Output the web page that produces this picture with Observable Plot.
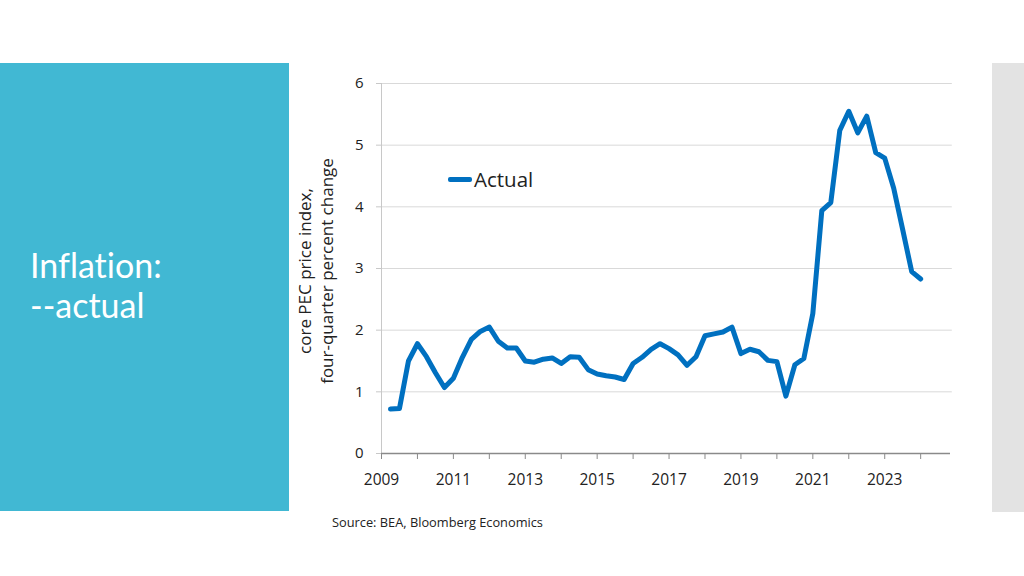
<!DOCTYPE html>
<html>
<head>
<meta charset="utf-8">
<script src="https://cdn.jsdelivr.net/npm/d3@7"></script>
<script src="https://cdn.jsdelivr.net/npm/@observablehq/plot@0.6"></script>
<style>
  html, body { margin: 0; padding: 0; background: #fff; }
  body { width: 1024px; height: 576px; position: relative; overflow: hidden; font-family: "Open Sans", sans-serif; }
  #panel { position: absolute; left: 0; top: 63px; width: 289px; height: 448px; background: #41B8D3; }
  .title { position: absolute; left: 30px; color: #fff; font-size: 34px; line-height: 40px; height: 40px; font-family: Lato, sans-serif; white-space: nowrap; font-variant-ligatures: none; font-feature-settings: "liga" 0, "clig" 0, "dlig" 0; }
  #sidebar { position: absolute; left: 992px; top: 63px; width: 32px; height: 449px; background: #E3E3E3; }
  #chart { position: absolute; left: 290px; top: 60px; }
  #ylabel { position: absolute; left: 316px; top: 271px; width: 300px; transform: translate(-50%, -50%) rotate(-90deg); text-align: center; font-size: 17px; line-height: 22px; color: #222; white-space: nowrap; }
  #legend { position: absolute; left: 448px; top: 165px; font-size: 20.5px; color: #222; display: flex; align-items: center; }
  #legend .sw { display: inline-block; width: 24px; height: 5px; background: #0070C0; border-radius: 2px; margin-right: 2px; }
  #source { position: absolute; left: 332px; top: 513px; font-size: 12.8px; color: #222; }
</style>
</head>
<body>
<div id="panel"></div>
<div class="title" style="top:245px">Inflation:</div>
<div class="title" style="top:285px">--actual</div>
<div id="sidebar"></div>
<div id="chart"></div>
<div id="ylabel">core PEC price index,<br>four-quarter percent change</div>
<div id="legend"><span class="sw"></span><span id="legendLabel"></span></div>
<div id="source">Source: BEA, Bloomberg Economics</div>
<script>
const seriesName = "Actual";
const periods = [
  "2009Q2","2009Q3","2009Q4",
  "2010Q1","2010Q2","2010Q3","2010Q4",
  "2011Q1","2011Q2","2011Q3","2011Q4",
  "2012Q1","2012Q2","2012Q3","2012Q4",
  "2013Q1","2013Q2","2013Q3","2013Q4",
  "2014Q1","2014Q2","2014Q3","2014Q4",
  "2015Q1","2015Q2","2015Q3","2015Q4",
  "2016Q1","2016Q2","2016Q3","2016Q4",
  "2017Q1","2017Q2","2017Q3","2017Q4",
  "2018Q1","2018Q2","2018Q3","2018Q4",
  "2019Q1","2019Q2","2019Q3","2019Q4",
  "2020Q1","2020Q2","2020Q3","2020Q4",
  "2021Q1","2021Q2","2021Q3","2021Q4",
  "2022Q1","2022Q2","2022Q3","2022Q4",
  "2023Q1","2023Q2","2023Q3","2023Q4",
  "2024Q1"
];
const actual = [
  0.72, 0.73, 1.50,
  1.78, 1.57, 1.31, 1.07,
  1.22, 1.56, 1.85, 1.98,
  2.05, 1.82, 1.71, 1.71,
  1.50, 1.48, 1.53, 1.55,
  1.46, 1.57, 1.56, 1.36,
  1.29, 1.26, 1.24, 1.20,
  1.46, 1.56, 1.69, 1.78,
  1.70, 1.60, 1.43, 1.57,
  1.91, 1.94, 1.97, 2.05,
  1.62, 1.69, 1.65, 1.51,
  1.49, 0.93, 1.44, 1.54,
  2.27, 3.94, 4.07, 5.24,
  5.55, 5.20, 5.47, 4.88,
  4.79, 4.30, 3.63, 2.95,
  2.83
];
const yTicks = [0, 1, 2, 3, 4, 5, 6];
const yearTicks = [2009, 2010, 2011, 2012, 2013, 2014, 2015, 2016, 2017, 2018, 2019, 2020, 2021, 2022, 2023, 2024];
const yearLabels = ["2009", "2011", "2013", "2015", "2017", "2019", "2021", "2023"];

document.getElementById("legendLabel").textContent = seriesName;

const data = periods.map((p, i) => {
  const yr = +p.slice(0, 4), q = +p.slice(5);
  return { t: yr + (q - 1) / 4, v: actual[i] };
});

const chart = Plot.plot({
  width: 680,
  height: 440,
  marginLeft: 91,
  marginRight: 20,
  marginTop: 23,
  marginBottom: 47,
  style: { fontFamily: "Open Sans, sans-serif", fontSize: "15px", color: "#222", background: "transparent" },
  x: { domain: [2009, 2024.83] },
  y: { domain: [0, 6] },
  marks: [
    Plot.ruleY(yTicks.filter(d => d > 0), { x1: 2009, x2: 2024.88, stroke: "#D9D9D9", strokeWidth: 1 }),
    Plot.ruleX([2009], { y1: 0, y2: 6, stroke: "#C8C8C8", strokeWidth: 1 }),
    Plot.axisY({ ticks: yTicks, tickSize: 5, tickPadding: 13, stroke: "#C8C8C8", fill: "#222", label: null, tickFormat: d => String(d) }),
    Plot.ruleY([0], { stroke: "#8A8A8A", strokeWidth: 1.5 }),
    Plot.axisX({ ticks: yearTicks, tickSize: 6, tickPadding: 14, stroke: "#8A8A8A", fill: "#222", label: null, fontSize: 15.5,
      tickFormat: d => yearLabels.includes(String(d)) ? String(d) : "" }),
    Plot.line(data, { x: "t", y: "v", stroke: "#0070C0", strokeWidth: 5, strokeLinejoin: "round", strokeLinecap: "round" })
  ]
});
document.getElementById("chart").appendChild(chart);
</script>
</body>
</html>
